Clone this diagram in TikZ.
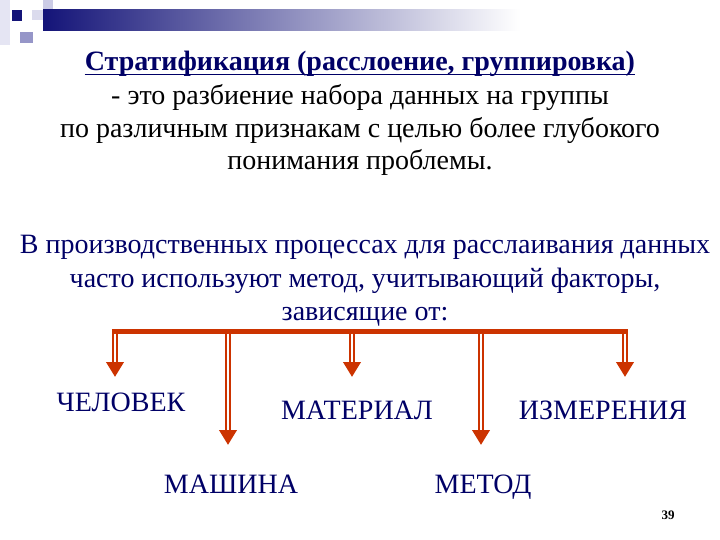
\documentclass[tikz,border=0pt]{standalone}
\usepackage{fontspec}
\setmainfont{Liberation Serif}
\usetikzlibrary{arrows.meta, positioning, calc}
\definecolor{stratnavy}{RGB}{0, 0, 102}
\definecolor{stratred}{RGB}{204, 51, 0}
\definecolor{stratlav}{RGB}{204, 204, 230}
\definecolor{stratmid}{RGB}{150, 150, 200}
\definecolor{stratdark}{RGB}{20, 20, 120}
\tikzset{
  textline/.style={inner sep=0pt, anchor=base, font=\fontsize{28}{32}\selectfont},
  factor/.style={inner sep=0pt, anchor=base, text=stratnavy, font=\fontsize{28}{32}\selectfont},
  trunk/.style={draw=stratred, line width=5pt},
  feed/.style={draw=stratred, line width=6.5pt, -{Triangle[length=15pt, width=17pt]},
               postaction={draw=white, line width=2pt, shorten >=15pt, shorten <=2.5pt, -}},
}

\begin{document}
\begin{tikzpicture}[x=1pt, y=-1pt]
        \useasboundingbox (0,0) rectangle (720,540);
        % header ornament
        \fill[stratlav!50] (0,0) rectangle (10,45);
        \fill[stratlav] (43,0) rectangle (53,10);
        \fill[stratlav!70] (32,10) rectangle (43,20);
        \fill[stratmid] (20,32) rectangle (33,43);
        \fill[stratdark] (12,10) rectangle (22,21);
        \shade[left color=stratdark, right color=white] (43,10) rectangle (520,31);

        % definition
        \node[textline, text=stratnavy, font=\fontsize{28}{32}\selectfont\bfseries] (title) at (360,71)
             {Стратификация (расслоение, группировка)};
        \draw[stratnavy, line width=1.4pt] ($(title.base west)+(0,3.5)$) -- ($(title.base east)+(0,3.5)$);
        \node[textline] (def1) at (360,105) {- это разбиение набора данных на группы};
        \node[textline] (def2) at (360,138) {по различным признакам с целью более глубокого};
        \node[textline] (def3) at (360,170) {понимания проблемы.};

        \node[textline, text=stratnavy] (use1) at (365,254) {В производственных процессах для расслаивания данных};
        \node[textline, text=stratnavy] (use2) at (365,287) {часто используют метод, учитывающий факторы,};
        \node[textline, text=stratnavy] (use3) at (365,320) {зависящие от:};

        % bar and arrows
        \coordinate (b1) at (115,331);
        \coordinate (b2) at (228,331);
        \coordinate (b3) at (352,331);
        \coordinate (b4) at (481,331);
        \coordinate (b5) at (625,331);
        \coordinate (h1) at (115,377);
        \coordinate (h2) at (228,445);
        \coordinate (h3) at (352,377);
        \coordinate (h4) at (481,445);
        \coordinate (h5) at (625,377);
        \draw[trunk] ([xshift=-3.25pt]b1) -- ([xshift=3.25pt]b5);
        \foreach \i in {1,...,5}
          \draw[feed] (b\i) -- (h\i);

        \node[factor] (chelovek) at (121,411) {ЧЕЛОВЕК};
        \node[factor] (mashina) at (231,493) {МАШИНА};
        \node[factor] (material) at (357,419) {МАТЕРИАЛ};
        \node[factor] (metod) at (483,493) {МЕТОД};
        \node[factor] (izmer) at (603,419) {ИЗМЕРЕНИЯ};

        \node[inner sep=0pt, font=\fontsize{13}{15}\selectfont\bfseries] (page) at (668,515) {39};
        \end{tikzpicture}
\end{document}
